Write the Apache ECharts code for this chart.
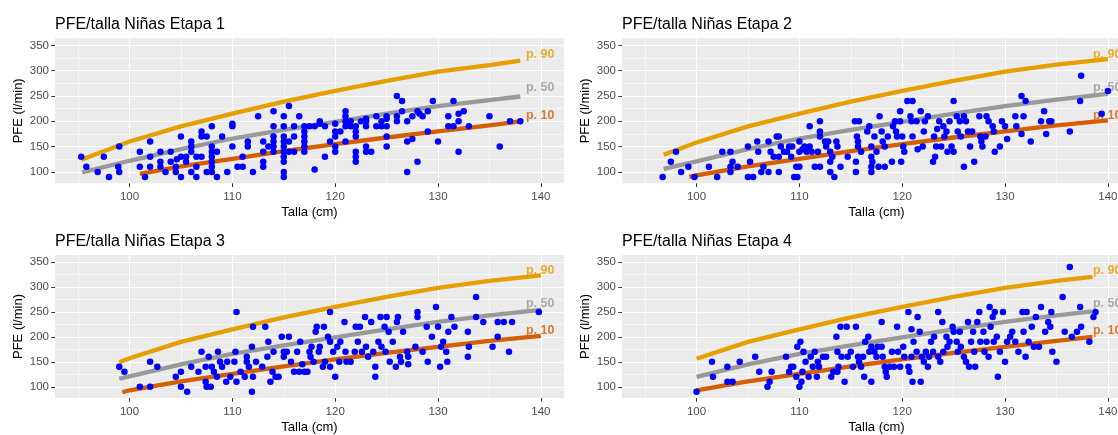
<!DOCTYPE html>
<html>
<head>
<meta charset="utf-8">
<script src="https://cdn.jsdelivr.net/npm/echarts@6/dist/echarts.min.js"></script>
<style>
  html, body { margin: 0; padding: 0; background: #ffffff; overflow: hidden; }
  /* the right-hand panels run slightly past the window edge */
  #chart { width: 1145px; height: 435px; }
</style>
</head>
<body>
<div id="chart"></div>
<script>
// ---- Data -----------------------------------------------------------------
const titles = [
  'PFE/talla Niñas Etapa 1',
  'PFE/talla Niñas Etapa 2',
  'PFE/talla Niñas Etapa 3',
  'PFE/talla Niñas Etapa 4'
];
const xTitle = 'Talla (cm)';
const yTitle = 'PFE (l/min)';

const heightTicks = [100, 110, 120, 130, 140];
const heightMinor = [95, 105, 115, 125, 135];
const pfeTicks = [100, 150, 200, 250, 300, 350];
const pfeMinor = [125, 175, 225, 275, 325];

const percentileNames = ['p. 90', 'p. 50', 'p. 10'];
const labelHeight = 138.5;
const labelPfe = [332, 267, 212];

// [talla (cm), PFE (l/min)]
const etapa1 = [
  [95.3,130],[95.8,110],[96.9,100],[97.5,130],[98,90],[98.9,110],[99,100],[99,150],
  [101,140],[101,110],[101.5,90],[102,160],[102,110],[102,130],
  [103,140],[103,120],[103,110],[103.5,100],[104,140],[104,120],[104.5,100],[104.5,110],[104.6,125],
  [105,170],[105,90],[105,130],[105.5,120],[105.5,130],[106,100],[106,160],[106,150],[106,140],
  [106.5,130],[106.5,90],[107,130],[106.5,110],[107,180],[107,170],
  [107.5,100],[107.5,170],[108,150],[108,140],[108,130],[108,190],[108,110],[108,100],[108,120],[108.5,90],[108.5,140],
  [109,170],[109.5,100],[110,195],[110,190],[110,150],[110.5,110],[111,110],[111,130],[111.5,160],[111.5,150],[112,100],[112.5,210],
  [113,160],[113,120],[113,110],[113,140],[113.5,150],[114,160],[114,220],[114,140],[114,170],[114,190],[114,150],
  [115,210],[115,190],[115,170],[115,160],[115,150],[115,140],[115,130],[115,120],[115,100],[115,90],
  [115.5,230],[115.5,140],[115.5,160],[116,170],[116,190],[116,140],[116.5,210],
  [117,180],[117,170],[117,160],[117,150],[117,140],[117,190],[117.5,190],
  [118,105],[118,190],[118.5,195],[118.5,200],[119,130],[119,190],[119.5,160],
  [120,195],[120,180],[120,150],[120,140],[120,170],[120.5,180],
  [121,220],[121,210],[121,190],[121,200],[121,160],[121.5,200],[121.5,190],
  [122,180],[122,140],[122,130],[122,120],[122,170],[122,190],[122.5,200],
  [123,200],[123,205],[123,190],[123,150],[123,140],[123.5,140],
  [124,210],[124,190],[124.5,190],[124.5,200],[125,150],[125,190],[125,170],[125,205],[125,210],
  [126,250],[126,200],[126,210],[126.5,240],[126.5,220],[127,200],[127,160],[127,100],
  [127.5,210],[127.5,165],[128,120],[128,220],[128.2,215],[128.5,210],[129,180],[129,220],[129.5,240],
  [130,160],[131,210],[131,190],[131.5,240],[131.5,190],[132,215],[132,200],[132,140],[132.5,220],
  [133,190],[135,210],[136,150],[137,200],[138,200]
];

const etapa2 = [
  [96.7,90],[97.5,120],[98,140],[98.5,100],[99.2,110],[99.8,90],[101.2,110],[102,90],
  [102.5,140],[103.3,140],[103.5,120],[103.3,110],[103.3,100],[104,110],
  [105,90],[105,150],[105.2,120],[105.5,90],[105.9,160],[106,140],[106.3,100],[106.5,110],
  [107,100],[107,160],[107.2,140],[107.5,130],[107.8,170],[108,170],[108,130],[108,100],[108.2,150],
  [108.5,140],[108.8,140],[109,150],[109.2,130],[109.3,150],[109.5,90],[109.8,90],[109.7,110],
  [110,110],[110,160],[110,140],[110.3,145],[110.5,150],[110.7,140],[111,190],[111,150],[111.2,140],
  [111.5,110],[111.8,140],[112,200],[112,180],[112,170],[112,110],[112.5,160],[112.6,150],[112.8,160],
  [113,140],[113,120],[113,100],[113.2,130],[113.4,90],[113.6,160],[113.7,150],[114,110],[114.7,130],
  [115.4,200],[115.5,120],[115.5,100],[115.6,170],[115.7,150],[115.7,160],[115.8,200],[116,140],
  [116.6,180],[116.8,190],[117,150],[117,130],[117,110],[117,100],[117.1,120],[117.3,170],[117.5,140],
  [117.7,110],[117.8,210],[118,180],[118.1,160],[118.3,110],[118.3,150],[118.6,170],
  [119,120],[119.1,190],[119.3,200],[119.4,180],[119.5,170],[119.8,220],[119.8,200],[119.9,120],
  [120,170],[120.1,150],[120.2,140],[120.5,240],[121,240],[120.8,210],[120.9,200],[121,170],
  [121.4,200],[121.5,145],[121.8,220],[122,150],[122.1,180],[122.2,200],[122.5,210],
  [123,120],[123.1,170],[123.2,130],[123.3,150],[123.4,185],[123.6,200],[123.8,150],
  [124,190],[124.1,170],[124.3,180],[124.4,140],[124.6,200],[124.8,150],
  [125,240],[125,140],[125.3,210],[125.4,180],[125.6,200],[125.7,170],
  [126,210],[126,110],[126.2,200],[126.4,180],[126.6,150],[126.8,180],[127,120],
  [127.5,210],[127.6,170],[127.7,160],[127.8,150],[128.1,170],[128.2,210],[128.4,200],
  [128.8,190],[128.9,180],[129,140],[129.5,150],[129.7,200],
  [130,190],[130.2,165],[131,210],[131.1,190],[131.6,250],[131.6,175],[131.8,210],[132,240],
  [132.5,160],[133.5,200],[133.8,220],[134,175],[134.3,200],[134.5,200],
  [136.3,180],[137.3,240],[137.4,290],[139.4,215],[140,260]
];

const etapa3 = [
  [99,140],[99.5,130],[101,100],[102,150],[102,100],[102.7,140],
  [104.5,120],[105,100],[105,130],[105.6,90],[106,140],[106.7,130],
  [107,170],[107.4,140],[107.4,110],[107.5,100],[107.7,160],[107.9,100],
  [108,140],[108.2,130],[108.5,120],[108.6,170],[108.8,150],[109,140],[109.4,110],[109.5,150],[109.8,120],
  [110.2,150],[110.3,170],[110.4,250],[110.4,110],[110.8,130],[111.2,120],[111.4,150],[111.4,160],
  [111.6,140],[111.9,180],[111.9,90],[112,220],[112,120],[112.3,150],[112.9,140],
  [113.2,220],[113.4,160],[113.5,190],[113.7,110],[113.9,130],[114,170],[114.2,120],[114.5,120],
  [114.8,200],[115,160],[115,170],[115.3,170],[115.5,200],[115.7,150],[116,130],[116.3,170],
  [116.5,130],[116.6,190],[116.8,145],[117,130],[117.3,130],[117.5,170],[117.6,160],[117.7,180],
  [117.9,150],[118.1,210],[118.2,220],[118.4,170],[118.5,180],[118.8,140],[118.9,220],
  [119,150],[119.3,200],[119.5,190],[119.5,250],[119.5,140],[119.8,170],
  [120,120],[120.2,180],[120.4,150],[120.5,190],[120.9,230],[121,170],[121.1,150],[121.5,150],
  [121.9,170],[122,220],[122.2,190],[122.4,220],[122.6,170],[122.9,240],
  [123,180],[123.2,160],[123.5,230],[123.7,170],[123.9,120],[123.9,140],
  [124.2,190],[124.4,240],[124.5,180],[124.8,220],[124.9,170],
  [125,240],[125.2,210],[125.3,150],[125.6,190],[125.9,140],[126,230],[126.1,240],
  [126.3,160],[126.4,150],[126.6,210],[127,170],[127.1,160],[127.1,145],[127.8,180],
  [128,250],[128,240],[128.5,170],[128.9,220],[129,150],[129.4,200],[129.8,260],
  [130,220],[130.2,140],[130.3,180],[130.5,190],[130.8,170],[130.9,150],[131,210],
  [131.3,240],[131.6,220],[132.9,210],[132.9,160],[133,180],[133.7,240],[133.7,280],
  [134.4,230],[135.3,180],[135.8,230],[135.8,200],[136.4,230],[136.9,170],[137.2,230],[139.8,250]
];

const etapa4 = [
  [100,90],[101.5,150],[101.6,120],[103,140],[103,110],[103.5,110],[104.2,150],
  [105.7,160],[106.1,130],[106.9,100],[107.1,110],[107.3,130],
  [108.7,160],[109,130],[109.2,140],[109.4,140],[109.7,120],[109.8,180],
  [110,100],[110.1,190],[110.2,110],[110.3,130],[110.4,170],[110.6,150],[110.9,120],
  [111.1,160],[111.3,140],[111.5,170],[111.7,120],[111.8,150],[111.9,140],
  [112.3,160],[112.6,160],[113.1,120],[113.3,130],[113.6,200],[113.7,170],[113.7,130],[113.8,140],
  [114,220],[114.1,160],[114.4,110],[114.6,220],[114.7,160],
  [115,170],[115.2,140],[115.5,220],[115.7,160],[115.8,150],[116,140],[116.2,160],
  [116.3,120],[116.4,190],[116.7,200],[116.8,170],[117,110],[117,180],[117.3,170],
  [117.5,160],[117.6,180],[118,230],[118,180],[118.1,160],[118.3,140],[118.4,130],
  [118.5,120],[118.8,140],[119,170],[119.2,140],[119.5,220],[119.6,170],[119.8,140],
  [120.1,180],[120.2,160],[120.6,250],[120.6,140],[120.7,130],[120.9,215],[120.9,160],
  [121,110],[121.1,190],[121.4,170],[121.5,240],[121.7,210],[121.8,110],[121.9,160],
  [122.1,150],[122.3,170],[122.5,140],[122.6,160],[122.8,190],
  [123,170],[123.1,200],[123.5,250],[123.5,160],[123.7,150],[123.9,230],
  [124,170],[124.3,200],[124.4,180],[124.6,190],[124.9,220],
  [125,210],[125.3,190],[125.4,170],[125.6,210],[125.7,180],
  [126,160],[126.2,150],[126.4,230],[126.5,140],[126.7,190],[126.9,210],
  [127,170],[127.1,140],[127.3,230],[127.5,250],[127.6,190],[127.9,210],
  [128,170],[128.2,190],[128.4,160],[128.5,260],[128.6,220],[128.8,240],[128.9,190],
  [129,250],[129.2,200],[129.3,120],[129.5,170],[129.8,250],
  [130,150],[130.2,190],[130.5,200],[130.7,210],[131,190],[131.3,170],
  [131.7,250],[131.8,210],[132,160],[132.1,250],[132.3,190],[132.6,220],[132.8,180],
  [133,240],[133.3,180],[133.5,260],[133.9,210],[134.2,230],[134.4,220],[134.5,250],[134.6,170],
  [135,150],[135.6,280],[135.8,210],[136.3,340],[136.5,200],[137,210],[137.3,260],
  [137.4,220],[138.2,190],[138.6,240],[138.8,250]
];

// Percentile reference curves, p. 90 / p. 50 / p. 10
const p90Etapa1 = [[95.3,124],[100,160],[105,190],[110,215],[115,239],[120,260],[125,280],[130,298],[135,311],[138,320]];
const p50Etapa1 = [[95.4,99],[100,122],[105,145],[110,166],[115,183],[120,199],[125,215],[130,230],[135,242],[138,249]];
const p10Etapa1 = [[101,96],[105,111],[110,126],[115,141],[120,155],[125,168],[130,180],[135,192],[138,200]];

const p90Etapa2 = [[96.8,134],[100,158],[105,190],[110,215],[115,239],[120,260],[125,280],[130,298],[135,312],[140,323]];
const p50Etapa2 = [[96.8,106],[100,121],[105,145],[110,166],[115,183],[120,199],[125,215],[130,230],[135,243],[140,254]];
const p10Etapa2 = [[99.3,90],[100,93],[105,111],[110,126],[115,141],[120,155],[125,168],[130,180],[135,192],[140,202]];

const p90Etapa3 = [[99,149],[100,157],[105,190],[110,215],[115,239],[120,260],[125,280],[130,298],[135,312],[140,323]];
const p50Etapa3 = [[99,116],[100,121],[105,145],[110,166],[115,183],[120,199],[125,215],[130,230],[135,243],[140,254]];
const p10Etapa3 = [[99.3,89],[100,93],[105,111],[110,126],[115,141],[120,155],[125,168],[130,180],[135,192],[140,202]];

const p90Etapa4 = [[100,156],[105,190],[110,215],[115,239],[120,260],[125,280],[130,298],[135,312],[138.5,320]];
const p50Etapa4 = [[100,120],[105,145],[110,166],[115,183],[120,199],[125,215],[130,230],[135,243],[138.5,251]];
const p10Etapa4 = [[100,93],[105,111],[110,126],[115,141],[120,155],[125,168],[130,180],[135,192],[138.5,200]];

const panelPoints = [etapa1, etapa2, etapa3, etapa4];
const panelCurves = [
  [p90Etapa1, p50Etapa1, p10Etapa1],
  [p90Etapa2, p50Etapa2, p10Etapa2],
  [p90Etapa3, p50Etapa3, p10Etapa3],
  [p90Etapa4, p50Etapa4, p10Etapa4]
];

// ---- Styling / layout -----------------------------------------------------
const FONT = '"Liberation Sans", Arial, Helvetica, sans-serif';
const curveColors = ['#E69F00', '#999999', '#D55E00'];
const X_LIMITS = [92.75, 142.25];
const Y_LIMITS = [77.5, 364];
const PANEL_W = 509;
const PANEL_H = 145;
const panelOrigins = [[55, 38.3], [622, 38.3], [55, 255], [622, 255]];

const grid = [], xAxis = [], yAxis = [], title = [], series = [];

panelOrigins.forEach(([left, top], i) => {
  grid.push({
    left, top, width: PANEL_W, height: PANEL_H,
    show: true, backgroundColor: '#EBEBEB', borderWidth: 0
  });

  title.push({
    text: titles[i], left, top: top - 21.5, padding: 0,
    textStyle: { fontFamily: FONT, fontSize: 16, fontWeight: 'normal', color: '#000000' }
  });

  // major x axis: labels, ticks and major grid lines
  xAxis.push({
    type: 'value', gridIndex: i, position: 'bottom',
    min: X_LIMITS[0], max: X_LIMITS[1],
    name: xTitle, nameLocation: 'middle', nameGap: 23,
    nameTextStyle: { fontFamily: FONT, fontSize: 13, color: '#000000' },
    axisLine: { show: false },
    axisTick: { show: true, length: 3.7, customValues: heightTicks, lineStyle: { color: '#333333', width: 1 } },
    axisLabel: { show: true, customValues: heightTicks, margin: 8, color: '#4D4D4D', fontSize: 11.5, fontFamily: FONT },
    splitLine: { show: true, lineStyle: { color: '#FFFFFF', width: 1.1 } }
  });
  // minor x grid lines
  xAxis.push({
    type: 'value', gridIndex: i, position: 'bottom',
    min: X_LIMITS[0], max: X_LIMITS[1],
    axisLine: { show: false },
    axisTick: { show: false, customValues: heightMinor },
    axisLabel: { show: false, customValues: heightMinor },
    splitLine: { show: true, lineStyle: { color: '#FFFFFF', width: 0.55 } }
  });

  yAxis.push({
    type: 'value', gridIndex: i, position: 'left',
    min: Y_LIMITS[0], max: Y_LIMITS[1],
    name: yTitle, nameLocation: 'middle', nameGap: 30, nameRotate: 90,
    nameTextStyle: { fontFamily: FONT, fontSize: 13, color: '#000000' },
    axisLine: { show: false },
    axisTick: { show: true, length: 3.7, customValues: pfeTicks, lineStyle: { color: '#333333', width: 1 } },
    axisLabel: { show: true, customValues: pfeTicks, margin: 6, color: '#4D4D4D', fontSize: 11.5, fontFamily: FONT },
    splitLine: { show: true, lineStyle: { color: '#FFFFFF', width: 1.1 } }
  });
  yAxis.push({
    type: 'value', gridIndex: i, position: 'left',
    min: Y_LIMITS[0], max: Y_LIMITS[1],
    axisLine: { show: false },
    axisTick: { show: false, customValues: pfeMinor },
    axisLabel: { show: false, customValues: pfeMinor },
    splitLine: { show: true, lineStyle: { color: '#FFFFFF', width: 0.55 } }
  });

  const xi = 2 * i, yi = 2 * i;

  panelCurves[i].forEach((curve, k) => {
    series.push({
      type: 'line', xAxisIndex: xi, yAxisIndex: yi,
      data: curve, symbol: 'none', showSymbol: false, silent: true,
      lineStyle: { color: curveColors[k], width: 4.3, cap: 'butt' },
      z: 2
    });
  });

  series.push({
    type: 'scatter', xAxisIndex: xi, yAxisIndex: yi,
    data: percentileNames.map((name, k) => ({
      name, value: [labelHeight, labelPfe[k]],
      label: { color: curveColors[k] }
    })),
    symbolSize: 1, silent: true,
    itemStyle: { color: 'rgba(0,0,0,0)' },
    label: {
      show: true, position: 'right', distance: 0, formatter: '{b}',
      fontFamily: FONT, fontSize: 12.5, fontWeight: 'bold'
    },
    z: 3
  });

  series.push({
    type: 'scatter', xAxisIndex: xi, yAxisIndex: yi,
    data: panelPoints[i], symbolSize: 6.5, silent: true,
    itemStyle: { color: '#0000FF', opacity: 1 },
    z: 4
  });
});

const chart = echarts.init(document.getElementById('chart'), null, { renderer: 'canvas' });
chart.setOption({
  animation: false,
  backgroundColor: '#FFFFFF',
  title, grid, xAxis, yAxis, series
});
</script>
</body>
</html>
